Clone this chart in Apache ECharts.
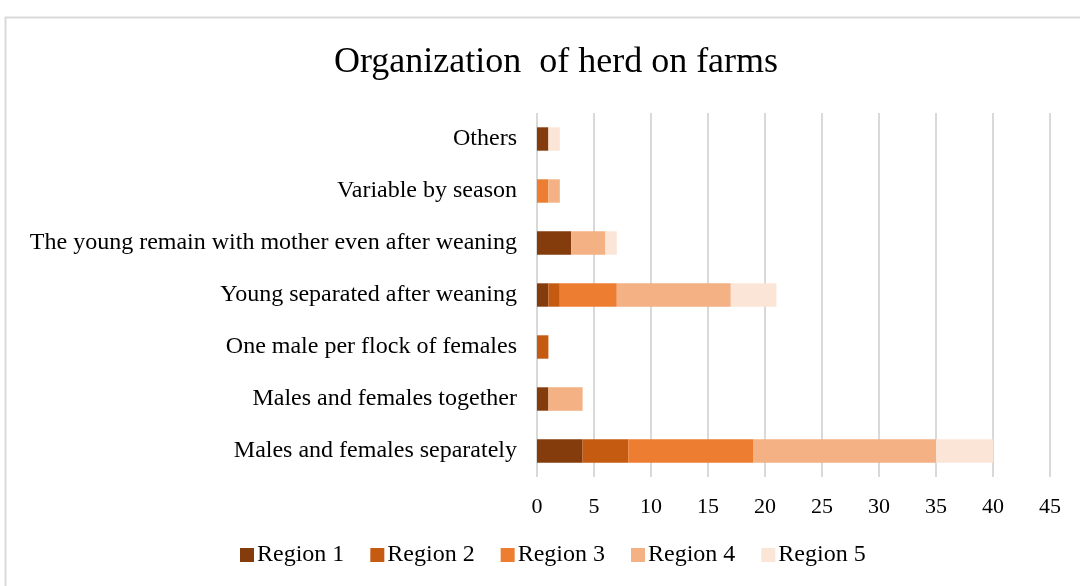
<!DOCTYPE html>
<html lang="en">
<head>
  <meta charset="UTF-8">
  <title>Organization of herd on farms</title>
  <style>
    * { margin: 0; padding: 0; }
    body { background: #fff; overflow: hidden; }
    #chart { width: 1080px; height: 586px; }
  </style>
</head>
<body>
  <div id="chart"></div>
  <script src="https://cdn.jsdelivr.net/npm/echarts@6/dist/echarts.min.js"></script>
  <script>
    // categories listed bottom to top
    const categories = [
      'Males and females separately',
      'Males and females together',
      'One male per flock of females',
      'Young separated after weaning',
      'The young remain with mother even after weaning',
      'Variable by season',
      'Others'
    ];
    const region1 = [4, 1, 0, 1, 3, 0, 1];
    const region2 = [4, 0, 1, 1, 0, 0, 0];
    const region3 = [11, 0, 0, 5, 0, 1, 0];
    const region4 = [16, 3, 0, 10, 3, 1, 0];
    const region5 = [5, 0, 0, 4, 1, 0, 1];
    const seriesNames = ['Region 1', 'Region 2', 'Region 3', 'Region 4', 'Region 5'];
    const colors = ['#843c0c', '#c55a11', '#ed7d31', '#f4b183', '#fbe5d6'];

    const chart = echarts.init(document.getElementById('chart'));
    const font = '"Liberation Serif", "Times New Roman", serif';

    chart.setOption({
      animation: false,
      textStyle: { fontFamily: font },
      title: {
        text: 'Organization  of herd on farms',
        left: 551,
        top: 40,
        textAlign: 'center',
        textStyle: { fontFamily: font, fontSize: 36, fontWeight: 'normal', color: '#000' }
      },
      graphic: [{
        type: 'rect',
        shape: { x: 5.5, y: 17.5, width: 1100, height: 600 },
        style: { fill: 'none', stroke: '#d9d9d9', lineWidth: 2 },
        silent: true
      }],
      legend: {
        bottom: 14,
        left: 235,
        itemWidth: 14,
        itemHeight: 14,
        itemGap: 26,
        icon: 'rect',
        textStyle: { fontFamily: font, fontSize: 24, color: '#000', padding: [0, 0, 0, -2] },
        data: seriesNames
      },
      grid: { left: 537, right: 30, top: 113, bottom: 109, containLabel: false },
      xAxis: {
        type: 'value',
        min: 0,
        max: 45,
        interval: 5,
        axisLine: { show: false },
        axisTick: { show: false },
        axisLabel: { fontFamily: font, fontSize: 22, color: '#000', margin: 19 },
        splitLine: { show: true, lineStyle: { color: '#d9d9d9', width: 2 } }
      },
      yAxis: {
        type: 'category',
        data: categories,
        axisLine: { show: false },
        axisTick: { show: false },
        axisLabel: { fontFamily: font, fontSize: 24, color: '#000', margin: 20 }
      },
      series: [region1, region2, region3, region4, region5].map((d, i) => ({
        name: seriesNames[i],
        type: 'bar',
        stack: 'total',
        barWidth: '45%',
        itemStyle: { color: colors[i] },
        data: d
      }))
    });
  </script>
</body>
</html>
